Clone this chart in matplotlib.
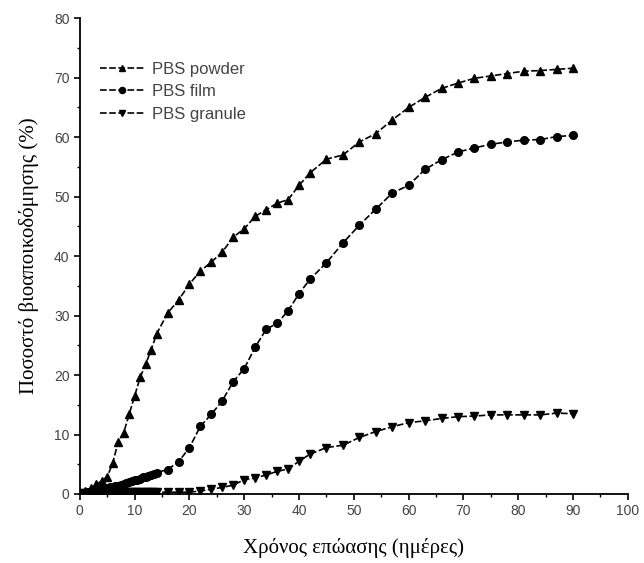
import matplotlib.pyplot as plt
from matplotlib.ticker import MultipleLocator

# powder sampled daily at start, then every 2, then every 3 days
powder_days = [0, 1, 2, 3, 4, 5, 6, 7, 8, 9, 10, 11, 12, 13, 14,
               16, 18, 20, 22, 24, 26, 28, 30, 32, 34, 36, 38, 40, 42,
               45, 48, 51, 54, 57, 60, 63, 66, 69, 72, 75, 78, 81, 84, 87, 90]
powder = [0, 0.5, 1.0, 1.6, 2.2, 2.9, 5.2, 8.8, 10.3, 13.4, 16.5, 19.6, 21.8, 24.2, 26.9,
          30.4, 32.6, 35.3, 37.5, 39.0, 40.7, 43.2, 44.6, 46.7, 47.8, 48.9, 49.5, 51.9, 54.0,
          56.3, 57.0, 59.2, 60.6, 62.9, 65.0, 66.7, 68.2, 69.1, 69.9, 70.3, 70.7, 71.1, 71.2, 71.4, 71.6]

# film and granule sampled every half day at start (dense black band)
dense_days = [0, 0.5, 1, 1.5, 2, 2.5, 3, 3.5, 4, 4.5, 5, 5.5, 6, 6.5, 7, 7.5,
              8, 8.5, 9, 9.5, 10, 10.5, 11, 11.5, 12, 12.5, 13, 13.5, 14,
              16, 18, 20, 22, 24, 26, 28, 30, 32, 34, 36, 38, 40, 42,
              45, 48, 51, 54, 57, 60, 63, 66, 69, 72, 75, 78, 81, 84, 87, 90]

film = [0, 0.1, 0.2, 0.3, 0.4, 0.5, 0.6, 0.7, 0.8, 0.9, 1.0, 1.1, 1.2, 1.3, 1.4, 1.5,
        1.6, 1.8, 2.0, 2.1, 2.3, 2.4, 2.6, 2.8, 2.9, 3.1, 3.2, 3.4, 3.6,
        4.1, 5.4, 7.8, 11.4, 13.4, 15.7, 18.9, 21.1, 24.7, 27.7, 28.7, 30.8, 33.7, 36.1,
        38.9, 42.2, 45.2, 47.9, 50.6, 51.9, 54.6, 56.2, 57.5, 58.2, 58.8, 59.2, 59.5, 59.6, 60.1, 60.3]

granule = [0, 0.1, 0.1, 0.2, 0.2, 0.2, 0.3, 0.3, 0.3, 0.3, 0.3, 0.3, 0.3, 0.3, 0.3, 0.3,
           0.3, 0.3, 0.3, 0.3, 0.3, 0.3, 0.3, 0.3, 0.3, 0.3, 0.3, 0.3, 0.3,
           0.3, 0.3, 0.3, 0.5, 0.8, 1.1, 1.5, 2.4, 2.7, 3.2, 3.8, 4.2, 5.5, 6.7,
           7.8, 8.2, 9.5, 10.5, 11.3, 12.0, 12.3, 12.7, 13.0, 13.1, 13.3, 13.3, 13.3, 13.3, 13.6, 13.5]

labels = ["PBS powder", "PBS film", "PBS granule"]

fig = plt.figure(figsize=(6.44, 5.63), dpi=100)
ax = fig.add_axes([0.124, 0.1226, 0.851, 0.845])

style = dict(color="black", linestyle=(0, (4, 1.5)), linewidth=1.2)
ax.plot(powder_days, powder, marker="^", markersize=6, label=labels[0], **style)
ax.plot(dense_days, film, marker="o", markersize=5.5, label=labels[1], **style)
ax.plot(dense_days, granule, marker="v", markersize=6, label=labels[2], **style)

ax.set_xlim(0, 100)
ax.set_ylim(0, 80)
ax.xaxis.set_major_locator(MultipleLocator(10))
ax.xaxis.set_minor_locator(MultipleLocator(5))
ax.yaxis.set_major_locator(MultipleLocator(10))
ax.yaxis.set_minor_locator(MultipleLocator(5))
ax.spines["top"].set_visible(False)
ax.spines["right"].set_visible(False)
for side in ["left", "bottom"]:
    ax.spines[side].set_linewidth(1.3)
ax.tick_params(which="major", direction="out", length=4, width=1.2,
               labelsize=10, labelcolor="#444444")
ax.tick_params(which="minor", direction="out", length=2.5, width=1.0)
for lbl in ax.get_xticklabels() + ax.get_yticklabels():
    lbl.set_family("Liberation Sans")

ax.set_xlabel("Χρόνος επώασης (ημέρες)", family="Liberation Serif", fontsize=15, labelpad=14)
ax.set_ylabel("Ποσοστό βιοαποικοδόμησης (%)", family="Liberation Serif", fontsize=15, labelpad=11)

leg = ax.legend(loc="upper left", bbox_to_anchor=(0.01, 0.94), frameon=False,
                handlelength=2.6, handletextpad=0.5, labelspacing=0.45,
                markerscale=0.8,
                prop={"family": "Liberation Sans", "size": 12})
for t in leg.get_texts():
    t.set_color("#444444")

fig.savefig("out.png", dpi=100)
plt.close(fig)
